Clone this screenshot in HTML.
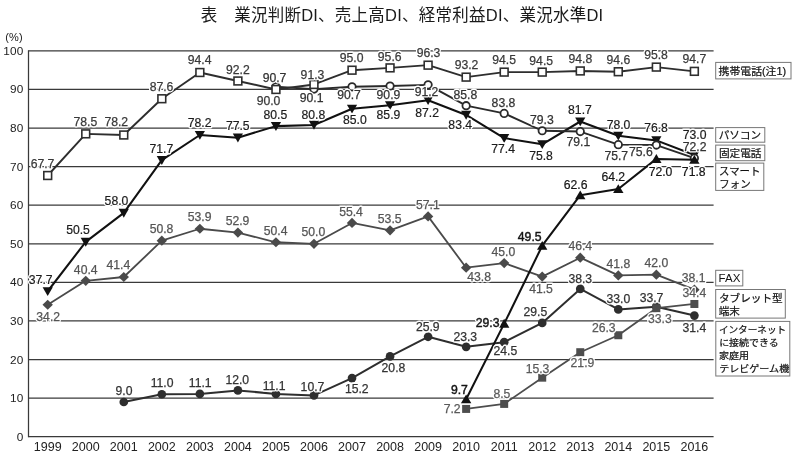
<!DOCTYPE html>
<html lang="ja">
<head>
<meta charset="utf-8">
<title>表 業況判断DI、売上高DI、経常利益DI、業況水準DI</title>
<style>
html,body{margin:0;padding:0;background:#fff;}
body{width:804px;height:460px;overflow:hidden;font-family:"Liberation Sans",sans-serif;}
svg{display:block;will-change:transform;}
text{font-family:"Liberation Sans",sans-serif;}
.ax{font-size:11.8px;fill:#222;letter-spacing:0.2px;}
.yr{font-size:12.5px;fill:#222;text-anchor:middle;}
.lb{font-size:12.2px;text-anchor:middle;}
.gl{stroke:#3a3a3a;stroke-width:1.25;fill:none;}
.bx{fill:#fff;stroke:#777;stroke-width:1;}
.ttl{font-family:"Liberation Sans","Noto Sans CJK JP",sans-serif;font-size:16.5px;fill:#1a1a1a;}
.lg{font-family:"Liberation Sans","Noto Sans CJK JP",sans-serif;font-size:10.6px;fill:#111;stroke:#111;stroke-width:0.22;}
.lgs{font-family:"Liberation Sans","Noto Sans CJK JP",sans-serif;font-size:9.6px;fill:#111;stroke:#111;stroke-width:0.22;}
</style>
</head>
<body>
<svg width="804" height="460" viewBox="0 0 804 460">
<rect width="804" height="460" fill="#fff"/>
<g aria-label="表 業況判断DI、売上高DI、経常利益DI、業況水準DI" role="img"><text class="ttl" x="200.7" y="20.7" textLength="402.5" lengthAdjust="spacing">表　業況判断DI、売上高DI、経常利益DI、業況水準DI</text></g>
<g class="gl">
<path d="M28.5 436.7H713.6"/><path d="M28.5 398.12H713.6"/><path d="M28.5 359.54H713.6"/><path d="M28.5 320.96H713.6"/><path d="M28.5 282.38H713.6"/><path d="M28.5 243.8H713.6"/><path d="M28.5 205.22H713.6"/><path d="M28.5 166.64H713.6"/><path d="M28.5 128.06H713.6"/><path d="M28.5 89.48H713.6"/><path d="M28.5 50.9H713.6"/><path d="M28.5 50.3V437.3"/>
</g>
<text class="ax" x="5.2" y="41" style="font-size:11px">(%)</text>
<text class="ax" x="23.6" y="441.1" text-anchor="end">0</text><text class="ax" x="23.6" y="402.12" text-anchor="end">10</text><text class="ax" x="23.6" y="363.54" text-anchor="end">20</text><text class="ax" x="23.6" y="324.96" text-anchor="end">30</text><text class="ax" x="23.6" y="286.38" text-anchor="end">40</text><text class="ax" x="23.6" y="247.8" text-anchor="end">50</text><text class="ax" x="23.6" y="209.22" text-anchor="end">60</text><text class="ax" x="23.6" y="170.64" text-anchor="end">70</text><text class="ax" x="23.6" y="132.06" text-anchor="end">80</text><text class="ax" x="23.6" y="93.48" text-anchor="end">90</text><text class="ax" x="23.6" y="54.9" text-anchor="end">100</text>
<text class="yr" x="47.7" y="451">1999</text><text class="yr" x="85.74" y="451">2000</text><text class="yr" x="123.78" y="451">2001</text><text class="yr" x="161.82" y="451">2002</text><text class="yr" x="199.86" y="451">2003</text><text class="yr" x="237.9" y="451">2004</text><text class="yr" x="275.94" y="451">2005</text><text class="yr" x="313.98" y="451">2006</text><text class="yr" x="352.02" y="451">2007</text><text class="yr" x="390.06" y="451">2008</text><text class="yr" x="428.1" y="451">2009</text><text class="yr" x="466.14" y="451">2010</text><text class="yr" x="504.18" y="451">2011</text><text class="yr" x="542.22" y="451">2012</text><text class="yr" x="580.26" y="451">2013</text><text class="yr" x="618.3" y="451">2014</text><text class="yr" x="656.34" y="451">2015</text><text class="yr" x="694.38" y="451">2016</text>
<g><path d="M47.7 304.76L85.74 280.84L123.78 276.98L161.82 240.71L199.86 228.75L237.9 232.61L275.94 242.26L313.98 243.8L352.02 222.97L390.06 230.3L428.1 216.41L466.14 267.72L504.18 263.09L542.22 276.59L580.26 257.69L618.3 275.44L656.34 274.66L694.38 289.71" fill="none" stroke="#4a4a4a" stroke-width="1.8" stroke-linejoin="round"/><path d="M42.5 304.76L47.7 299.66L52.9 304.76L47.7 309.86Z" fill="#4a4a4a"/><path d="M80.54 280.84L85.74 275.74L90.94 280.84L85.74 285.94Z" fill="#4a4a4a"/><path d="M118.58 276.98L123.78 271.88L128.98 276.98L123.78 282.08Z" fill="#4a4a4a"/><path d="M156.62 240.71L161.82 235.61L167.02 240.71L161.82 245.81Z" fill="#4a4a4a"/><path d="M194.66 228.75L199.86 223.65L205.06 228.75L199.86 233.85Z" fill="#4a4a4a"/><path d="M232.7 232.61L237.9 227.51L243.1 232.61L237.9 237.71Z" fill="#4a4a4a"/><path d="M270.74 242.26L275.94 237.16L281.14 242.26L275.94 247.36Z" fill="#4a4a4a"/><path d="M308.78 243.8L313.98 238.7L319.18 243.8L313.98 248.9Z" fill="#4a4a4a"/><path d="M346.82 222.97L352.02 217.87L357.22 222.97L352.02 228.07Z" fill="#4a4a4a"/><path d="M384.86 230.3L390.06 225.2L395.26 230.3L390.06 235.4Z" fill="#4a4a4a"/><path d="M422.9 216.41L428.1 211.31L433.3 216.41L428.1 221.51Z" fill="#4a4a4a"/><path d="M460.94 267.72L466.14 262.62L471.34 267.72L466.14 272.82Z" fill="#4a4a4a"/><path d="M498.98 263.09L504.18 257.99L509.38 263.09L504.18 268.19Z" fill="#4a4a4a"/><path d="M537.02 276.59L542.22 271.49L547.42 276.59L542.22 281.69Z" fill="#4a4a4a"/><path d="M575.06 257.69L580.26 252.59L585.46 257.69L580.26 262.79Z" fill="#4a4a4a"/><path d="M613.1 275.44L618.3 270.34L623.5 275.44L618.3 280.54Z" fill="#4a4a4a"/><path d="M651.14 274.66L656.34 269.56L661.54 274.66L656.34 279.76Z" fill="#4a4a4a"/><path d="M689.18 289.71L694.38 284.61L699.58 289.71L694.38 294.81Z" fill="#4a4a4a"/></g>
<g><path d="M123.78 401.98L161.82 394.26L199.86 393.88L237.9 390.4L275.94 393.88L313.98 395.42L352.02 378.06L390.06 356.45L428.1 336.78L466.14 346.81L504.18 342.18L542.22 322.89L580.26 288.94L618.3 309.39L656.34 306.69L694.38 315.56" fill="none" stroke="#2e2e2e" stroke-width="2.0" stroke-linejoin="round"/><circle cx="123.78" cy="401.98" r="4.35" fill="#2e2e2e"/><circle cx="161.82" cy="394.26" r="4.35" fill="#2e2e2e"/><circle cx="199.86" cy="393.88" r="4.35" fill="#2e2e2e"/><circle cx="237.9" cy="390.4" r="4.35" fill="#2e2e2e"/><circle cx="275.94" cy="393.88" r="4.35" fill="#2e2e2e"/><circle cx="313.98" cy="395.42" r="4.35" fill="#2e2e2e"/><circle cx="352.02" cy="378.06" r="4.35" fill="#2e2e2e"/><circle cx="390.06" cy="356.45" r="4.35" fill="#2e2e2e"/><circle cx="428.1" cy="336.78" r="4.35" fill="#2e2e2e"/><circle cx="466.14" cy="346.81" r="4.35" fill="#2e2e2e"/><circle cx="504.18" cy="342.18" r="4.35" fill="#2e2e2e"/><circle cx="542.22" cy="322.89" r="4.35" fill="#2e2e2e"/><circle cx="580.26" cy="288.94" r="4.35" fill="#2e2e2e"/><circle cx="618.3" cy="309.39" r="4.35" fill="#2e2e2e"/><circle cx="656.34" cy="306.69" r="4.35" fill="#2e2e2e"/><circle cx="694.38" cy="315.56" r="4.35" fill="#2e2e2e"/></g>
<g><path d="M466.14 408.92L504.18 403.91L542.22 377.67L580.26 352.21L618.3 335.23L656.34 308.23L694.38 303.98" fill="none" stroke="#4d4d4d" stroke-width="1.8" stroke-linejoin="round"/><rect x="462.14" y="404.92" width="8" height="8" fill="#4d4d4d"/><rect x="500.18" y="399.91" width="8" height="8" fill="#4d4d4d"/><rect x="538.22" y="373.67" width="8" height="8" fill="#4d4d4d"/><rect x="576.26" y="348.21" width="8" height="8" fill="#4d4d4d"/><rect x="614.3" y="331.23" width="8" height="8" fill="#4d4d4d"/><rect x="652.34" y="304.23" width="8" height="8" fill="#4d4d4d"/><rect x="690.38" y="299.98" width="8" height="8" fill="#4d4d4d"/></g>
<g><path d="M47.7 291.25L85.74 241.87L123.78 212.94L161.82 160.08L199.86 135L237.9 137.7L275.94 126.13L313.98 124.97L352.02 108.77L390.06 105.3L428.1 100.28L466.14 114.94L504.18 138.09L542.22 144.26L580.26 121.5L618.3 135.78L656.34 140.41L694.38 155.07" fill="none" stroke="#111" stroke-width="2.05" stroke-linejoin="round"/><path d="M42.6 287.15H52.8L47.7 296.05Z" fill="#111"/><path d="M80.64 237.77H90.84L85.74 246.67Z" fill="#111"/><path d="M118.68 208.84H128.88L123.78 217.74Z" fill="#111"/><path d="M156.72 155.98H166.92L161.82 164.88Z" fill="#111"/><path d="M194.76 130.9H204.96L199.86 139.8Z" fill="#111"/><path d="M232.8 133.6H243L237.9 142.5Z" fill="#111"/><path d="M270.84 122.03H281.04L275.94 130.93Z" fill="#111"/><path d="M308.88 120.87H319.08L313.98 129.77Z" fill="#111"/><path d="M346.92 104.67H357.12L352.02 113.57Z" fill="#111"/><path d="M384.96 101.2H395.16L390.06 110.1Z" fill="#111"/><path d="M423 96.18H433.2L428.1 105.08Z" fill="#111"/><path d="M461.04 110.84H471.24L466.14 119.74Z" fill="#111"/><path d="M499.08 133.99H509.28L504.18 142.89Z" fill="#111"/><path d="M537.12 140.16H547.32L542.22 149.06Z" fill="#111"/><path d="M575.16 117.4H585.36L580.26 126.3Z" fill="#111"/><path d="M613.2 131.68H623.4L618.3 140.58Z" fill="#111"/><path d="M651.24 136.31H661.44L656.34 145.21Z" fill="#111"/><path d="M689.28 150.97H699.48L694.38 159.87Z" fill="#111"/></g>
<g><path d="M275.94 86.78L313.98 89.09L352.02 86.78L390.06 86.01L428.1 84.85L466.14 105.68L504.18 113.4L542.22 130.76L580.26 131.53L618.3 144.65L656.34 145.04L694.38 158.15" fill="none" stroke="#2a2a2a" stroke-width="1.9" stroke-linejoin="round"/><circle cx="275.94" cy="86.78" r="3.7" fill="#fff" stroke="#2a2a2a" stroke-width="1.8"/><circle cx="313.98" cy="89.09" r="3.7" fill="#fff" stroke="#2a2a2a" stroke-width="1.8"/><circle cx="352.02" cy="86.78" r="3.7" fill="#fff" stroke="#2a2a2a" stroke-width="1.8"/><circle cx="390.06" cy="86.01" r="3.7" fill="#fff" stroke="#2a2a2a" stroke-width="1.8"/><circle cx="428.1" cy="84.85" r="3.7" fill="#fff" stroke="#2a2a2a" stroke-width="1.8"/><circle cx="466.14" cy="105.68" r="3.7" fill="#fff" stroke="#2a2a2a" stroke-width="1.8"/><circle cx="504.18" cy="113.4" r="3.7" fill="#fff" stroke="#2a2a2a" stroke-width="1.8"/><circle cx="542.22" cy="130.76" r="3.7" fill="#fff" stroke="#2a2a2a" stroke-width="1.8"/><circle cx="580.26" cy="131.53" r="3.7" fill="#fff" stroke="#2a2a2a" stroke-width="1.8"/><circle cx="618.3" cy="144.65" r="3.7" fill="#fff" stroke="#2a2a2a" stroke-width="1.8"/><circle cx="656.34" cy="145.04" r="3.7" fill="#fff" stroke="#2a2a2a" stroke-width="1.8"/><circle cx="694.38" cy="158.15" r="3.7" fill="#fff" stroke="#2a2a2a" stroke-width="1.8"/></g>
<g><path d="M47.7 175.51L85.74 133.85L123.78 135L161.82 98.74L199.86 72.5L237.9 80.99L275.94 89.48L313.98 84.46L352.02 70.19L390.06 67.88L428.1 65.17L466.14 77.13L504.18 72.12L542.22 72.12L580.26 70.96L618.3 71.73L656.34 67.1L694.38 71.35" fill="none" stroke="#2e2e2e" stroke-width="1.9" stroke-linejoin="round"/><rect x="43.8" y="171.61" width="7.8" height="7.8" fill="#fff" stroke="#2e2e2e" stroke-width="1.6"/><rect x="81.84" y="129.95" width="7.8" height="7.8" fill="#fff" stroke="#2e2e2e" stroke-width="1.6"/><rect x="119.88" y="131.1" width="7.8" height="7.8" fill="#fff" stroke="#2e2e2e" stroke-width="1.6"/><rect x="157.92" y="94.84" width="7.8" height="7.8" fill="#fff" stroke="#2e2e2e" stroke-width="1.6"/><rect x="195.96" y="68.6" width="7.8" height="7.8" fill="#fff" stroke="#2e2e2e" stroke-width="1.6"/><rect x="234" y="77.09" width="7.8" height="7.8" fill="#fff" stroke="#2e2e2e" stroke-width="1.6"/><rect x="272.04" y="85.58" width="7.8" height="7.8" fill="#fff" stroke="#2e2e2e" stroke-width="1.6"/><rect x="310.08" y="80.56" width="7.8" height="7.8" fill="#fff" stroke="#2e2e2e" stroke-width="1.6"/><rect x="348.12" y="66.29" width="7.8" height="7.8" fill="#fff" stroke="#2e2e2e" stroke-width="1.6"/><rect x="386.16" y="63.98" width="7.8" height="7.8" fill="#fff" stroke="#2e2e2e" stroke-width="1.6"/><rect x="424.2" y="61.27" width="7.8" height="7.8" fill="#fff" stroke="#2e2e2e" stroke-width="1.6"/><rect x="462.24" y="73.23" width="7.8" height="7.8" fill="#fff" stroke="#2e2e2e" stroke-width="1.6"/><rect x="500.28" y="68.22" width="7.8" height="7.8" fill="#fff" stroke="#2e2e2e" stroke-width="1.6"/><rect x="538.32" y="68.22" width="7.8" height="7.8" fill="#fff" stroke="#2e2e2e" stroke-width="1.6"/><rect x="576.36" y="67.06" width="7.8" height="7.8" fill="#fff" stroke="#2e2e2e" stroke-width="1.6"/><rect x="614.4" y="67.83" width="7.8" height="7.8" fill="#fff" stroke="#2e2e2e" stroke-width="1.6"/><rect x="652.44" y="63.2" width="7.8" height="7.8" fill="#fff" stroke="#2e2e2e" stroke-width="1.6"/><rect x="690.48" y="67.45" width="7.8" height="7.8" fill="#fff" stroke="#2e2e2e" stroke-width="1.6"/></g>
<g><path d="M466.14 399.28L504.18 323.66L542.22 245.73L580.26 195.19L618.3 189.02L656.34 158.92L694.38 159.7" fill="none" stroke="#111" stroke-width="2.05" stroke-linejoin="round"/><path d="M460.94 403.28H471.34L466.14 394.48Z" fill="#111"/><path d="M498.98 327.66H509.38L504.18 318.86Z" fill="#111"/><path d="M537.02 249.73H547.42L542.22 240.93Z" fill="#111"/><path d="M575.06 199.19H585.46L580.26 190.39Z" fill="#111"/><path d="M613.1 193.02H623.5L618.3 184.22Z" fill="#111"/><path d="M651.14 162.92H661.54L656.34 154.12Z" fill="#111"/><path d="M689.18 163.7H699.58L694.38 154.9Z" fill="#111"/></g>
<defs>
<g id="lb-di" class="lb"><text x="48.2" y="320.61">34.2</text><text x="85.74" y="273.89">40.4</text><text x="118.38" y="269.43">41.4</text><text x="161.52" y="232.66">50.8</text><text x="199.56" y="220.7">53.9</text><text x="237.5" y="224.86">52.9</text><text x="275.64" y="234.91">50.4</text><text x="313.38" y="236.15">50.0</text><text x="351.02" y="215.62">55.4</text><text x="389.71" y="223.15">53.5</text><text x="427.9" y="209.36">57.1</text><text x="479.14" y="281.37">43.8</text><text x="503.38" y="256.44">45.0</text><text x="541.02" y="292.64">41.5</text><text x="580.26" y="250.44">46.4</text><text x="618.4" y="268.19">41.8</text><text x="656.34" y="267.41">42.0</text><text x="693.58" y="281.96">38.1</text></g>
<g id="lb-ci" class="lb"><text x="123.98" y="394.93">9.0</text><text x="162.12" y="386.91">11.0</text><text x="200.21" y="386.93">11.1</text><text x="237.3" y="384.45">12.0</text><text x="274.14" y="389.93">11.1</text><text x="312.48" y="391.17">10.7</text><text x="356.77" y="393.21">15.2</text><text x="393.46" y="372.4">20.8</text><text x="427.75" y="331.13">25.9</text><text x="465.29" y="341.46">23.3</text><text x="505.38" y="354.83">24.5</text><text x="535.42" y="316.44">29.5</text><text x="580.26" y="283.19">38.3</text><text x="618.4" y="303.14">33.0</text><text x="651.54" y="302.44">33.7</text><text x="694.38" y="331.91">31.4</text></g>
<g id="lb-bs" class="lb"><text x="452.14" y="413.27">7.2</text><text x="501.88" y="398.26">8.5</text><text x="537.52" y="373.22">15.3</text><text x="582.46" y="366.96">21.9</text><text x="603.8" y="331.88">26.3</text><text x="659.84" y="322.58">33.3</text><text x="694.38" y="297.43">34.4</text></g>
<g id="lb-dn" class="lb"><text x="40.7" y="283.6">37.7</text><text x="78.04" y="234.42">50.5</text><text x="116.48" y="204.89">58.0</text><text x="161.32" y="152.73">71.7</text><text x="199.56" y="126.85">78.2</text><text x="237.75" y="129.85">77.5</text><text x="275.44" y="118.58">80.5</text><text x="313.38" y="118.62">80.8</text><text x="354.92" y="123.82">85.0</text><text x="388.46" y="119.35">85.9</text><text x="427.1" y="116.83">87.2</text><text x="460.24" y="129.39">83.4</text><text x="503.18" y="153.14">77.4</text><text x="541.02" y="159.91">75.8</text><text x="579.96" y="113.85">81.7</text><text x="618.5" y="128.63">78.0</text><text x="656.04" y="132.36">76.8</text><text x="694.58" y="139.42">73.0</text></g>
<g id="lb-oc" class="lb"><text x="274.54" y="82.33">90.7</text><text x="311.58" y="102.44">90.1</text><text x="349.02" y="98.83">90.7</text><text x="388.46" y="98.56">90.9</text><text x="426.5" y="96.2">91.2</text><text x="465.44" y="98.83">85.8</text><text x="503.48" y="106.85">83.8</text><text x="541.92" y="123.61">79.3</text><text x="578.36" y="146.08">79.1</text><text x="616.3" y="159.9">75.7</text><text x="640.94" y="156.39">75.6</text><text x="694.58" y="150.6">72.2</text></g>
<g id="lb-sq" class="lb"><text x="42.5" y="168.11">67.7</text><text x="85.34" y="126.4">78.5</text><text x="116.28" y="126.35">78.2</text><text x="161.52" y="91.09">87.6</text><text x="199.56" y="64.35">94.4</text><text x="237.9" y="73.84">92.2</text><text x="268.54" y="104.83">90.0</text><text x="312.48" y="78.61">91.3</text><text x="351.62" y="62.34">95.0</text><text x="389.71" y="60.63">95.6</text><text x="428.5" y="56.82">96.3</text><text x="466.54" y="68.88">93.2</text><text x="504.08" y="64.37">94.5</text><text x="541.22" y="64.87">94.5</text><text x="580.36" y="63.11">94.8</text><text x="618.4" y="63.88">94.6</text><text x="656.04" y="59.35">95.8</text><text x="694.38" y="63.2">94.7</text></g>
<g id="lb-up" class="lb"><text x="575.56" y="189.34">62.6</text><text x="613.3" y="181.37">64.2</text><text x="660.54" y="175.57">72.0</text><text x="693.73" y="175.55">71.8</text></g>
<g id="lb-upb" class="lb"><text x="459.44" y="393.63">9.7</text><text x="487.68" y="327.01">29.3</text><text x="529.72" y="241.38">49.5</text></g>
</defs>
<g fill="#fff" stroke="#fff" stroke-width="2.8" stroke-linejoin="round"><use href="#lb-di"/><use href="#lb-ci"/><use href="#lb-bs"/><use href="#lb-dn"/><use href="#lb-oc"/><use href="#lb-sq"/><use href="#lb-up"/><use href="#lb-upb"/></g>
<use href="#lb-di" fill="#555" stroke="#555" stroke-width="0.25"/><use href="#lb-ci" fill="#333" stroke="#333" stroke-width="0.25"/><use href="#lb-bs" fill="#5a5a5a" stroke="#5a5a5a" stroke-width="0.25"/><use href="#lb-dn" fill="#1c1c1c" stroke="#1c1c1c" stroke-width="0.2"/><use href="#lb-oc" fill="#333" stroke="#333" stroke-width="0.25"/><use href="#lb-sq" fill="#3a3a3a" stroke="#3a3a3a" stroke-width="0.25"/><use href="#lb-up" fill="#151515" stroke="#151515" stroke-width="0.2"/><use href="#lb-upb" fill="#151515" stroke="#151515" stroke-width="0.45"/>
<g aria-label="携帯電話(注1)" role="img"><rect class="bx" x="715.7" y="62.4" width="75.3" height="16.5"/><text class="lg" x="718.6" y="74.7" textLength="67.5" lengthAdjust="spacingAndGlyphs">携帯電話(注1)</text></g>
<g aria-label="パソコン" role="img"><rect class="bx" x="715.7" y="127.6" width="49.1" height="14.6"/><text class="lg" x="718.8" y="138.9" textLength="42.2" lengthAdjust="spacingAndGlyphs">パソコン</text></g>
<g aria-label="固定電話" role="img"><rect class="bx" x="715.7" y="145.1" width="49.1" height="15.6"/><text class="lg" x="718.9" y="157.4" textLength="42.6" lengthAdjust="spacingAndGlyphs">固定電話</text></g>
<g aria-label="スマートフォン" role="img"><rect class="bx" x="715.7" y="163.1" width="48.1" height="27.3"/><text class="lg" x="719" y="174.6" textLength="41.5" lengthAdjust="spacingAndGlyphs">スマート</text><text class="lg" x="719.3" y="188.2" textLength="31.3" lengthAdjust="spacingAndGlyphs">フォン</text></g>
<g><rect class="bx" x="715.7" y="270.3" width="27.1" height="15.6"/><text x="718.6" y="282.2" style="font-size:11.5px;fill:#111;">FAX</text></g>
<g aria-label="タブレット型端末" role="img"><rect class="bx" x="715.7" y="289.5" width="69.6" height="28.6"/><text class="lg" x="719" y="301.5" textLength="63.6" lengthAdjust="spacingAndGlyphs">タブレット型</text><text class="lg" x="718.7" y="314.8" textLength="21.1" lengthAdjust="spacingAndGlyphs">端末</text></g>
<g aria-label="インターネットに接続できる家庭用テレビゲーム機" role="img"><rect class="bx" x="715.8" y="321.4" width="74" height="54.6"/><text class="lgs" x="718.9" y="333.4" textLength="67.2" lengthAdjust="spacingAndGlyphs">インターネット</text><text class="lgs" x="719.2" y="346.4" textLength="59.4" lengthAdjust="spacingAndGlyphs">に接続できる</text><text class="lgs" x="719" y="359.3" textLength="30.1" lengthAdjust="spacingAndGlyphs">家庭用</text><text class="lgs" x="719.2" y="372.1" textLength="70" lengthAdjust="spacingAndGlyphs">テレビゲーム機</text></g>
</svg>
</body>
</html>
